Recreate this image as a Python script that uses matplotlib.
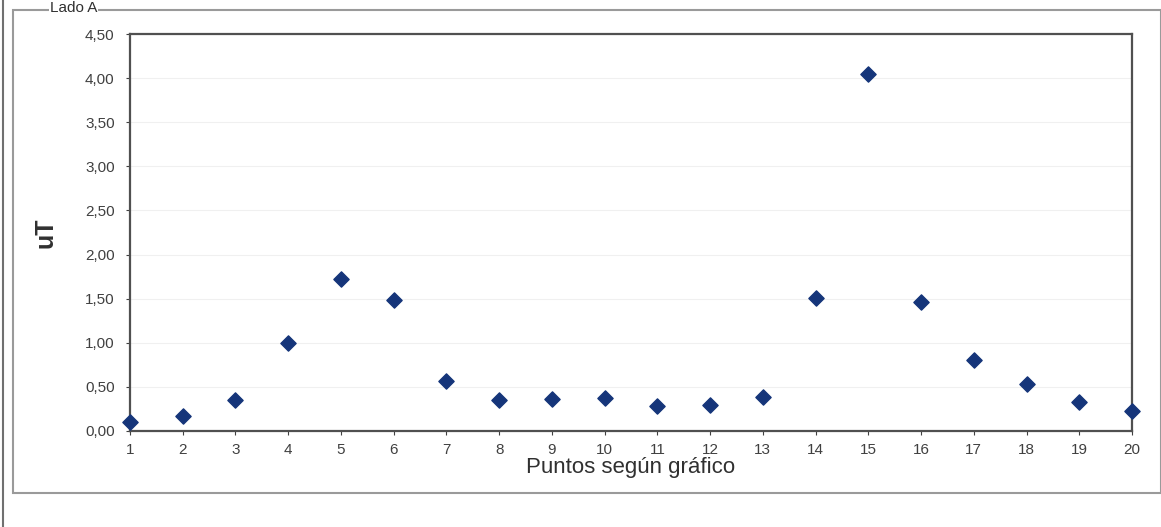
import numpy as np
import matplotlib
matplotlib.use('Agg')
import matplotlib.pyplot as plt
from matplotlib.patches import Rectangle
from matplotlib.lines import Line2D

plt.rcParams['font.family'] = ['Liberation Sans', 'DejaVu Sans']

puntos = np.arange(1, 21)
ut = [0.10, 0.17, 0.35, 1.00, 1.72, 1.48, 0.57, 0.35, 0.36, 0.37,
      0.28, 0.30, 0.39, 1.51, 4.05, 1.46, 0.81, 0.53, 0.33, 0.23]
yticks = [0, 0.5, 1.0, 1.5, 2.0, 2.5, 3.0, 3.5, 4.0, 4.5]

W, H = 1161, 527
fig = plt.figure(figsize=(W / 100, H / 100), dpi=100)

# outer chart frame and left border line
fig.patches.append(Rectangle((13 / W, 1 - 493 / H), (1161 - 13) / W, (493 - 10) / H,
                             transform=fig.transFigure, fill=False,
                             edgecolor='#9a9a9a', linewidth=1.5))
fig.lines.append(Line2D([3 / W, 3 / W], [0, 1], transform=fig.transFigure,
                        color='#707070', linewidth=1.5))

ax = fig.add_axes([130 / W, 1 - 431 / H, (1132 - 130) / W, (431 - 34) / H])
ax.scatter(puntos, ut, marker='D', s=60, color='#15357a', zorder=3, clip_on=False)

ax.set_xlim(1, 20)
ax.set_ylim(0, 4.5)
ax.set_xticks(puntos)
ax.set_yticks(yticks)
ax.set_yticklabels([f'{v:.2f}'.replace('.', ',') for v in yticks])
ax.tick_params(axis='both', labelsize=11, colors='#404040', length=3, width=0.8,
               direction='out')
ax.tick_params(axis='x', pad=6)
ax.tick_params(axis='y', pad=8)
ax.grid(axis='y', color='#f0f0f0', linewidth=0.8)
ax.set_axisbelow(True)
for s in ax.spines.values():
    s.set_color('#505050')
    s.set_linewidth(1.6)

ax.set_ylabel('uT', fontsize=18, fontweight='bold', color='#303030', labelpad=20)
ax.set_xlabel('Puntos según gráfico', fontsize=16, color='#303030', labelpad=0)

fig.text(50 / W, 1 - 1 / H, 'Lado A', fontsize=11, color='#303030', va='top',
         bbox=dict(facecolor='white', edgecolor='none', pad=0.5))

fig.savefig('out.png', dpi=100)
